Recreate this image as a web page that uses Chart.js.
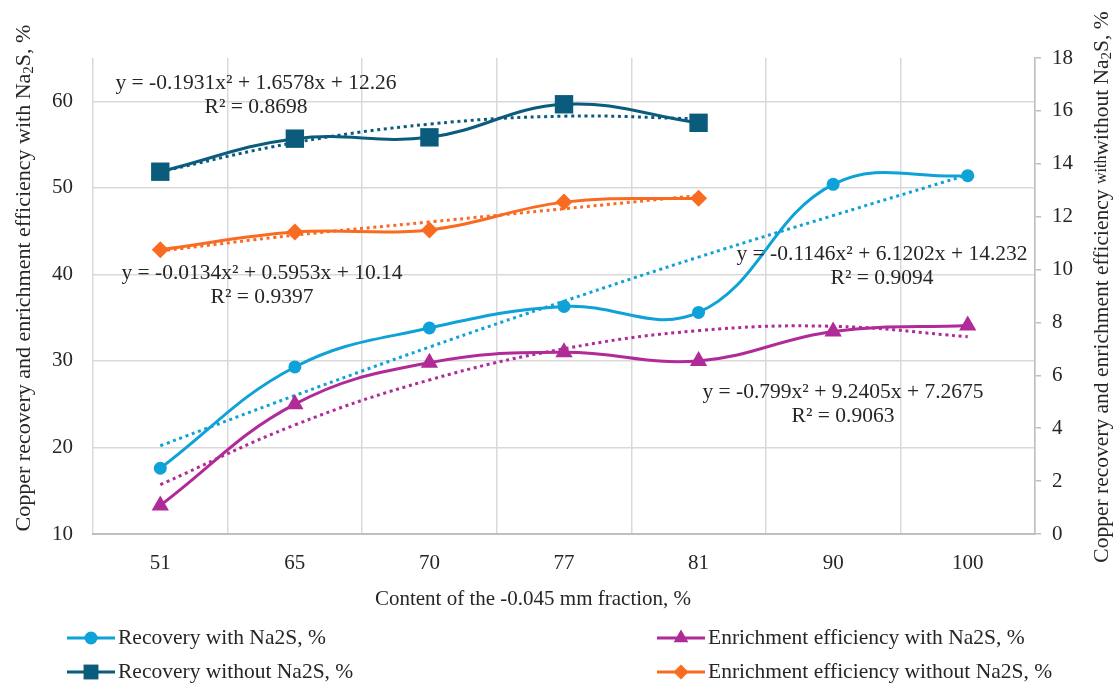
<!DOCTYPE html>
<html>
<head>
<meta charset="utf-8">
<title>Copper recovery vs fraction content</title>
<script src="https://cdn.jsdelivr.net/npm/chart.js@4.4.0/dist/chart.umd.min.js"></script>
<style>
    html, body { margin: 0; padding: 0; background: #fff; }
    #wrap { width: 1113px; height: 684px; }
</style>
</head>
<body>
<div id="wrap"><canvas id="chart" width="1113" height="684"></canvas></div>
<script>
// Categories: content of the -0.045 mm fraction, %
const categories = ['51', '65', '70', '77', '81', '90', '100'];

// Left axis series (with Na2S)
const recoveryWith = [17.6, 29.3, 33.8, 36.3, 35.6, 50.4, 51.4];
const enrichmentWith = [13.3, 25.0, 29.8, 31.0, 30.0, 33.4, 34.1];

// Right axis series (without Na2S)
const recoveryWithout = [13.7, 14.95, 15.0, 16.25, 15.55, null, null];
const enrichmentWithout = [10.75, 11.42, 11.5, 12.55, 12.7, null, null];

// Polynomial trendlines, read at each category
const recoveryWithTrend = [20.2, 26.0, 31.6, 36.9, 42.0, 46.8, 51.5];
const enrichmentWithTrend = [15.7, 22.6, 27.8, 31.4, 33.5, 34.0, 32.8];
const recoveryWithoutTrend = [13.7, 14.8, 15.5, 15.8, 15.7, null, null];
const enrichmentWithoutTrend = [10.7, 11.3, 11.8, 12.3, 12.8, null, null];

// Axis ranges
const leftMin = 10, leftMax = 65, leftStep = 10;
const rightMin = 0, rightMax = 18, rightStep = 2;

// Trendline equations
const equations = [
    { eq: 'y = -0.1931x² + 1.6578x + 12.26', r2: 'R² = 0.8698', x: 256, y: 83 },
    { eq: 'y = -0.0134x² + 0.5953x + 10.14', r2: 'R² = 0.9397', x: 262, y: 273 },
    { eq: 'y = -0.1146x² + 6.1202x + 14.232', r2: 'R² = 0.9094', x: 882, y: 254 },
    { eq: 'y = -0.799x² + 9.2405x + 7.2675', r2: 'R² = 0.9063', x: 843, y: 392 }
];

const FONT = "'Liberation Serif', 'Times New Roman', serif";
const TEXT = '#262626';
const GRID = '#d9d9d9';
const AXIS = '#bfbfbf';

const lightBlue = '#0ea2d8';
const magenta = '#b02a98';
const darkBlue = '#0b5b7c';
const orange = '#fa6b22';

Chart.defaults.font.family = FONT;
Chart.defaults.color = TEXT;

function series(label, data, color, style, radius, axis) {
    return {
        label: label,
        data: data,
        yAxisID: axis,
        borderColor: color,
        backgroundColor: color,
        borderWidth: 3,
        pointStyle: style,
        pointRadius: radius,
        pointHoverRadius: radius,
        pointBorderWidth: 0,
        tension: 0.4,
        fill: false
    };
}

function trend(label, data, color, axis) {
    return {
        label: label,
        data: data,
        yAxisID: axis,
        borderColor: color,
        borderWidth: 3,
        borderDash: [3, 3.7],
        pointRadius: 0,
        tension: 0.4,
        fill: false
    };
}

// Draw a marker the same way as the chart's points
function drawMarker(ctx, style, x, y, r, color) {
    ctx.save();
    ctx.fillStyle = color;
    ctx.beginPath();
    if (style === 'circle') {
        ctx.arc(x, y, r, 0, Math.PI * 2);
    } else if (style === 'triangle') {
        ctx.moveTo(x, y - r);
        ctx.lineTo(x + r * 0.866, y + r * 0.5);
        ctx.lineTo(x - r * 0.866, y + r * 0.5);
        ctx.closePath();
    } else if (style === 'rect') {
        const s = r * Math.SQRT1_2;
        ctx.rect(x - s, y - s, 2 * s, 2 * s);
    } else if (style === 'rectRot') {
        ctx.moveTo(x, y - r);
        ctx.lineTo(x + r, y);
        ctx.lineTo(x, y + r);
        ctx.lineTo(x - r, y);
        ctx.closePath();
    }
    ctx.fill();
    ctx.restore();
}

// Text made of parts with different sizes / subscript shifts
function drawRich(ctx, parts, cx, cy, rotate) {
    ctx.save();
    ctx.translate(cx, cy);
    if (rotate) ctx.rotate(-Math.PI / 2);
    let total = 0;
    parts.forEach(p => {
        ctx.font = p.size + 'px ' + FONT;
        p.w = ctx.measureText(p.t).width;
        total += p.w;
    });
    let x = -total / 2;
    ctx.textBaseline = 'middle';
    ctx.textAlign = 'left';
    ctx.fillStyle = TEXT;
    parts.forEach(p => {
        ctx.font = p.size + 'px ' + FONT;
        ctx.fillText(p.t, x, p.dy || 0);
        x += p.w;
    });
    ctx.restore();
}

const legendItems = [
    { text: 'Recovery with Na2S, %', color: lightBlue, style: 'circle', r: 6.5, x: 67, y: 638 },
    { text: 'Enrichment efficiency with Na2S, %', color: magenta, style: 'triangle', r: 8.5, x: 657, y: 638 },
    { text: 'Recovery without Na2S, %', color: darkBlue, style: 'rect', r: 10.5, x: 67, y: 672 },
    { text: 'Enrichment efficiency without Na2S, %', color: orange, style: 'rectRot', r: 7.5, x: 657, y: 672 }
];

const extrasPlugin = {
    id: 'extras',
    afterDraw(chart) {
        const ctx = chart.ctx;

        // Axis titles
        drawRich(ctx, [{ t: 'Content of the -0.045 mm fraction, %', size: 21 }], 533, 599, false);
        drawRich(ctx, [
            { t: 'Copper recovery and enrichment efficiency with Na', size: 22 },
            { t: '2', size: 15, dy: 5 },
            { t: 'S, %', size: 22 }
        ], 24, 278, true);
        drawRich(ctx, [
            { t: 'Copper recovery and enrichment efficiency ', size: 21.5 },
            { t: 'with', size: 16 },
            { t: 'without Na', size: 21.5 },
            { t: '2', size: 15, dy: 5 },
            { t: 'S, %', size: 21.5 }
        ], 1102, 287, true);

        // Trendline equations
        ctx.save();
        ctx.fillStyle = TEXT;
        ctx.font = '21.5px ' + FONT;
        ctx.textAlign = 'center';
        ctx.textBaseline = 'middle';
        equations.forEach(e => {
            ctx.fillText(e.eq, e.x, e.y);
            ctx.fillText(e.r2, e.x, e.y + 24);
        });
        ctx.restore();

        // Legend
        ctx.save();
        legendItems.forEach(item => {
            ctx.strokeStyle = item.color;
            ctx.lineWidth = 3;
            ctx.beginPath();
            ctx.moveTo(item.x, item.y);
            ctx.lineTo(item.x + 48, item.y);
            ctx.stroke();
            drawMarker(ctx, item.style, item.x + 24, item.y, item.r, item.color);
            ctx.fillStyle = TEXT;
            ctx.font = '21.5px ' + FONT;
            ctx.textAlign = 'left';
            ctx.textBaseline = 'middle';
            ctx.fillText(item.text, item.x + 51, item.y);
        });
        ctx.restore();
    }
};

const ctx = document.getElementById('chart').getContext('2d');
const chart = new Chart(ctx, {
    type: 'line',
    data: {
        labels: categories,
        datasets: [
            series('Recovery with Na2S, %', recoveryWith, lightBlue, 'circle', 6.5, 'y'),
            series('Enrichment efficiency with Na2S, %', enrichmentWith, magenta, 'triangle', 10, 'y'),
            series('Recovery without Na2S, %', recoveryWithout, darkBlue, 'rect', 13, 'y2'),
            series('Enrichment efficiency without Na2S, %', enrichmentWithout, orange, 'rectRot', 8.5, 'y2'),
            trend('Trend recovery with Na2S', recoveryWithTrend, lightBlue, 'y'),
            trend('Trend enrichment with Na2S', enrichmentWithTrend, magenta, 'y'),
            trend('Trend recovery without Na2S', recoveryWithoutTrend, darkBlue, 'y2'),
            trend('Trend enrichment without Na2S', enrichmentWithoutTrend, orange, 'y2')
        ]
    },
    options: {
        responsive: false,
        devicePixelRatio: 1,
        animation: false,
        layout: { padding: { top: 58, left: 0, right: 0, bottom: 0 } },
        plugins: {
            legend: { display: false },
            tooltip: { enabled: false },
            title: { display: false }
        },
        scales: {
            x: {
                type: 'category',
                offset: true,
                grid: { offset: true, color: GRID, lineWidth: 1.5, drawTicks: false },
                border: { display: true, color: AXIS, width: 2 },
                ticks: { font: { size: 21 }, color: TEXT, padding: 17, maxRotation: 0 },
                afterFit: s => { s.height = 150; }
            },
            y: {
                position: 'left',
                min: leftMin,
                max: leftMax,
                grid: {
                    color: c => (c.tick && c.tick.value > 60 ? 'rgba(0,0,0,0)' : GRID),
                    lineWidth: 1.5,
                    drawTicks: false
                },
                border: { display: false },
                ticks: {
                    stepSize: leftStep,
                    font: { size: 21 },
                    color: TEXT,
                    padding: 20,
                    callback: v => (v % leftStep === 0 ? v : '')
                },
                afterFit: s => { s.width = 93; }
            },
            y2: {
                position: 'right',
                min: rightMin,
                max: rightMax,
                grid: { drawOnChartArea: false, drawTicks: true, tickLength: 6, color: AXIS, lineWidth: 1.5 },
                border: { display: true, color: AXIS, width: 1.5 },
                ticks: { stepSize: rightStep, font: { size: 21 }, color: TEXT, padding: 11 },
                afterFit: s => { s.width = 78; }
            }
        }
    },
    plugins: [extrasPlugin]
});
</script>
</body>
</html>
